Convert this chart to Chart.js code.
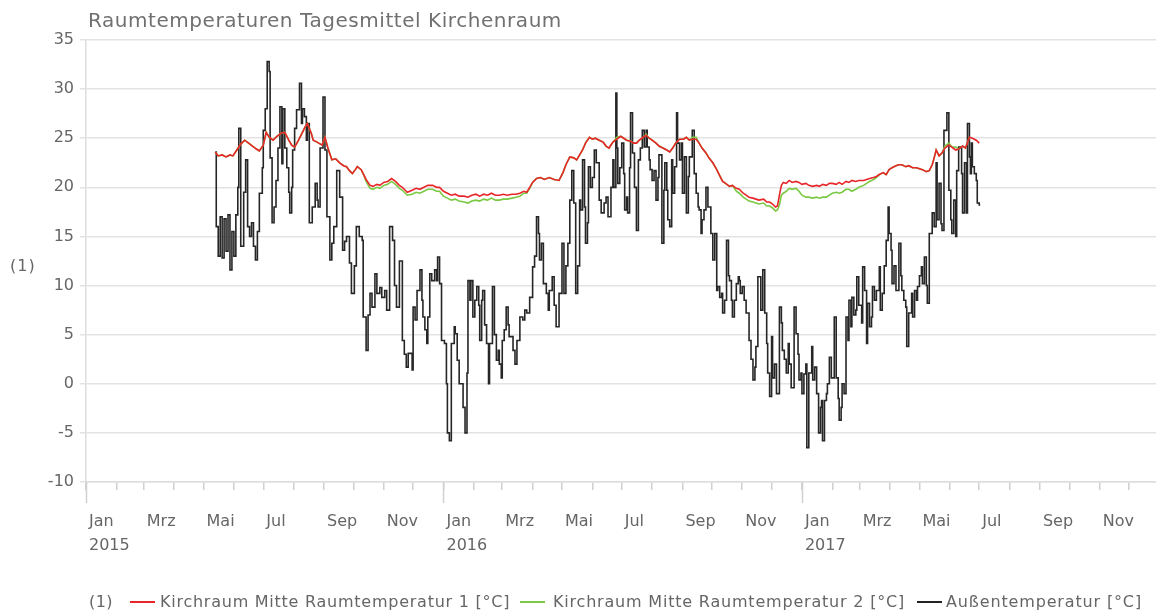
<!DOCTYPE html>
<html><head><meta charset="utf-8">
<script src="https://cdn.jsdelivr.net/npm/chart.js@4/dist/chart.umd.min.js"></script>
<style>
html,body{margin:0;padding:0;background:#fff;overflow:hidden;}
#wrap{position:relative;width:1156px;height:614px;font-family:"DejaVu Sans",sans-serif;color:#666;}
#title{position:absolute;left:88px;top:8px;font-size:20px;color:#707070;white-space:nowrap;}
#ytitle{position:absolute;left:10px;top:256px;font-size:16px;color:#666;letter-spacing:1px;}
.lg{position:absolute;top:592px;font-size:16px;color:#666;white-space:nowrap;line-height:20px;}
.sw{position:absolute;top:601px;width:25px;height:2px;}
canvas{position:absolute;left:0;top:0;}
</style></head>
<body><div id="wrap">
<canvas id="c" width="1156" height="614"></canvas>
<div id="title" data-w="474">Raumtemperaturen Tagesmittel Kirchenraum</div>
<div id="ytitle">(1)</div>
<div class="lg" style="left:89px" data-w="24">(1)</div>
<div class="sw" style="left:130px;background:#e8262a"></div>
<div class="lg" style="left:160px" data-w="350">Kirchraum Mitte Raumtemperatur 1 [°C]</div>
<div class="sw" style="left:520px;background:#7ac943"></div>
<div class="lg" style="left:553px" data-w="352">Kirchraum Mitte Raumtemperatur 2 [°C]</div>
<div class="sw" style="left:917px;background:#222"></div>
<div class="lg" style="left:946px" data-w="196">Außentemperatur [°C]</div>
</div>
<script>
// ---- data (x = days since 2015-01-01) ----
const monthNames = ['Jan','Feb','Mrz','Apr','Mai','Jun','Jul','Aug','Sep','Okt','Nov','Dez'];
const years = [2015, 2016, 2017];
const yTicks = [-10, -5, 0, 5, 10, 15, 20, 25, 30, 35];
const seriesNames = ['Kirchraum Mitte Raumtemperatur 1 [°C]', 'Kirchraum Mitte Raumtemperatur 2 [°C]', 'Außentemperatur [°C]'];

const roomDays = [132,135,139,143,147,150,154,158,162,166,170,174,177,181,184,187,191,195,199,203,207,210,213,217,221,224,226,230,232,236,241,244,247,251,255,259,263,266,269,272,275,277,281,283,286,290,293,297,300,304,308,312,316,320,323,326,328,333,337,341,345,349,354,358,361,365,369,373,377,381,386,390,394,398,402,406,410,414,418,422,426,430,435,439,443,447,450,453,456,460,464,468,473,478,483,487,490,494,498,501,504,507,510,514,517,520,524,528,531,534,538,542,546,549,552,556,559,562,565,569,572,575,578,582,585,589,593,596,599,602,606,610,613,616,619,623,626,629,633,636,640,644,647,650,653,657,660,664,667,671,674,677,681,684,687,692,695,698,701,704,706,708,710,712,715,718,721,725,728,731,735,738,742,746,749,752,756,759,762,766,769,772,776,779,782,786,789,794,797,800,804,807,810,814,817,820,823,827,830,833,837,840,844,848,851,854,858,861,864,866,868,871,874,877,881,884,888,891,895,898,902,905,909,912];
const room1 = [23.6,23.2,23.3,23.1,23.3,23.2,23.8,24.4,24.8,24.5,24.2,23.9,23.7,24.3,25.6,25.1,24.8,25.2,25.5,25.6,24.8,24.3,24.1,24.8,25.6,26.2,26.5,25.5,24.8,24.6,24.3,25.1,24.0,22.8,22.9,22.5,22.2,22.1,21.7,21.4,21.8,22.1,21.8,21.4,20.8,20.2,20.1,20.3,20.2,20.5,20.6,20.9,20.6,20.2,20.0,19.7,19.5,19.7,19.9,19.8,20.0,20.2,20.2,20.0,20.0,19.6,19.4,19.2,19.3,19.1,19.1,19.0,19.2,19.3,19.1,19.3,19.2,19.4,19.2,19.2,19.3,19.2,19.3,19.3,19.4,19.6,19.5,20.0,20.5,20.9,21.0,20.8,21.0,20.8,20.7,21.5,22.3,23.1,23.0,22.8,23.3,23.8,24.5,25.1,24.9,25.0,24.8,24.6,24.2,24.0,24.6,24.9,25.2,25.0,24.8,24.7,24.5,24.5,24.8,25.1,25.3,25.0,24.8,24.5,24.2,24.0,23.8,23.6,24.0,24.5,24.9,24.9,25.1,24.8,24.9,24.9,24.5,24.0,23.5,23.0,22.5,21.8,21.2,20.6,20.4,20.1,20.2,19.9,19.8,19.4,19.2,19.0,18.9,18.8,18.7,18.8,18.5,18.5,18.3,18.0,18.1,19.2,20.2,20.5,20.4,20.7,20.5,20.6,20.5,20.3,20.4,20.2,20.1,20.2,20.1,20.3,20.2,20.4,20.4,20.3,20.5,20.3,20.6,20.5,20.7,20.6,20.7,20.7,20.8,20.9,21.0,21.1,21.3,21.5,21.3,21.8,22.0,22.2,22.3,22.3,22.1,22.2,22.0,22.0,21.9,21.8,21.6,21.7,22.3,23.0,23.8,23.2,23.5,24.0,24.3,24.1,23.8,23.9,24.2,24.0,25.1,25.0,24.8,24.5];
const room2 = [23.6,23.2,23.3,23.1,23.3,23.2,23.8,24.4,24.8,24.5,24.2,23.9,23.7,24.3,25.6,25.1,24.8,25.2,25.5,25.6,24.8,24.3,24.1,24.8,25.6,26.2,26.5,25.5,24.8,24.6,24.3,25.1,24.0,22.8,22.9,22.5,22.2,22.1,21.7,21.4,21.8,22.1,21.8,21.4,20.6,19.9,19.8,20.0,19.9,20.2,20.3,20.6,20.3,19.9,19.7,19.4,19.2,19.3,19.5,19.4,19.6,19.8,19.8,19.6,19.6,19.1,18.9,18.7,18.8,18.6,18.5,18.4,18.6,18.7,18.6,18.8,18.7,18.9,18.7,18.7,18.8,18.8,18.9,19.0,19.1,19.4,19.4,19.9,20.5,20.9,21.0,20.8,21.0,20.8,20.7,21.5,22.3,23.1,23.0,22.8,23.3,23.8,24.5,25.1,24.9,25.0,24.8,24.6,24.2,24.0,24.6,25.1,25.2,25.0,24.8,24.7,24.5,24.5,24.8,25.1,25.4,25.0,24.8,24.5,24.2,24.0,23.8,23.6,24.0,24.5,24.9,24.9,25.1,24.8,25.1,25.1,24.5,24.0,23.5,23.0,22.5,21.8,21.2,20.6,20.4,20.1,20.2,19.6,19.4,19.0,18.8,18.6,18.5,18.4,18.3,18.4,18.1,18.1,17.9,17.6,17.7,18.2,19.2,19.4,19.6,19.9,19.8,19.9,19.6,19.2,19.0,19.0,18.9,19.0,18.9,19.0,19.0,19.2,19.4,19.5,19.4,19.5,19.8,19.8,19.6,19.8,20.0,20.2,20.4,20.6,20.8,21.0,21.3,21.5,21.3,21.8,22.0,22.2,22.3,22.3,22.1,22.2,22.0,22.0,21.9,21.8,21.6,21.7,22.3,23.0,23.8,23.2,23.5,24.2,24.5,24.1,24.1,23.9,24.2,24.0,25.1,null,null,null];

const outDays = [132,133,135,137,139,141,143,145,147,149,151,153,155,156,158,161,163,165,167,169,171,173,175,177,180,181,183,185,187,188,190,192,194,196,198,200,201,203,205,207,208,210,211,213,215,218,220,221,223,225,226,228,231,234,236,237,239,242,244,246,249,251,253,256,259,262,264,266,269,271,274,276,279,282,283,286,288,290,292,295,297,300,302,305,307,310,313,315,317,320,323,325,327,329,333,334,336,338,341,343,344,346,348,349,351,353,356,358,359,361,363,366,368,369,371,373,376,377,379,381,385,387,389,390,392,393,395,397,399,401,402,404,405,407,409,411,412,415,417,419,421,422,424,425,427,429,431,432,436,438,440,443,446,448,450,453,456,458,460,462,463,465,467,470,472,473,476,478,480,483,486,488,490,492,494,496,498,500,502,504,505,507,509,510,512,513,515,517,519,521,524,526,529,531,533,536,538,539,541,542,543,545,547,549,550,552,553,555,556,558,560,562,564,566,568,570,572,573,575,576,578,580,582,584,585,588,590,591,593,594,596,598,599,601,603,604,606,608,609,611,613,615,616,619,621,623,625,626,628,629,631,633,635,638,640,642,644,645,647,649,650,652,654,656,657,659,660,662,664,666,667,668,670,672,674,677,679,681,683,684,686,689,691,693,695,696,698,700,701,703,705,708,710,711,713,715,717,718,720,723,725,727,728,730,731,733,735,736,738,741,742,744,746,748,750,751,752,754,756,757,759,761,764,766,768,769,771,772,774,776,778,779,781,782,784,786,787,789,792,793,795,797,798,800,802,803,805,807,810,811,813,815,817,819,820,822,823,825,827,830,832,833,835,837,838,840,843,844,846,848,849,851,853,854,856,858,859,861,864,866,868,869,871,873,874,876,879,881,883,884,886,888,889,891,894,895,897,899,900,902,903,904,905,907,909,910,912,913];
const outTemp = [23.6,16,13,17,12.8,16.8,13.5,17.2,11.6,15.5,13,17.2,20,26,14,19.5,22.8,16,15,16.4,14,12.6,15.5,19.4,22,25.8,28,32.8,31.8,23,16.4,18,20.7,24,28.2,22.4,28,24,22,19.5,17.4,20,23.8,26,27.9,30.6,26.5,28,27.2,24.8,26.5,16.4,18,20.4,18.7,18,24,29.2,23.8,17,12.6,14.3,16,21.7,19,13.6,14.5,15,12.3,9.2,12,16,15,14.6,6.8,3.4,7,9.2,7.8,11.2,9.2,9.8,8.8,9.5,7.5,16,14.6,10,7.8,12.5,4.4,3,1.7,3.1,1.4,7.8,6.5,9.5,11.6,8.5,6.8,5.5,4.1,6.8,11.2,10.5,11.6,10.5,12.9,10.2,4.4,4.1,0,-5.0,-5.8,4.1,5.8,5.1,2.4,0,-2.4,-5.0,1.1,10.5,8.5,10.5,6.8,8.5,9.9,8,4.4,8.5,9.5,6,4.1,0,4.1,9.9,5,2.4,3.4,2.0,0.6,4.4,5.5,7.8,6,4.8,3.4,2,4.4,6.8,6.5,7.5,7.2,8.8,11.9,13,17,15.3,12.6,14.3,10.2,9.2,7.5,9.5,10.9,8,5.8,9.2,14.3,9.2,12,14.3,18.7,21.7,18.4,9.2,12,18.7,17.7,22.8,18,14.3,16.4,22.1,20,21,23.8,22.5,18.7,17.4,18.4,19,17,20,22.8,20,29.6,24,20.4,22,24.5,21.4,17.7,19,17.4,22,27.6,23.5,20,15.6,22.8,24,25.8,24.1,25.8,24.1,22.8,21.8,20.7,21.7,18.7,21,23.3,14.3,19.7,22.5,19.7,16.7,16,22.8,19.4,22.1,27.6,24.5,22.8,24.5,19.4,23.1,17.4,21.1,23.1,25.8,21.4,19.4,18,17.7,15.3,16.7,17.7,20,18,15.3,12.6,15.3,9.5,9.9,8.8,9.2,7.2,8.5,14.6,11,10.5,8.5,6.8,8.5,10.2,10.9,10.5,9.2,9.9,8.5,7.2,4.4,2.5,0.4,1.7,3.8,10.9,7.5,11.6,7.2,4.1,1.1,-1.3,4.8,0.6,2,-1,7.8,6.2,3.4,2.5,1.1,4.1,2.0,-0.4,7.8,5.1,3,0.4,1.1,-1,1,2.0,-6.5,1.1,3.8,0.4,1.7,-1,-5.0,-2.4,-1.7,-5.8,-1.7,-1,0,2.7,0.6,6.8,0.6,-1.5,-3.7,-2.4,0,-1,6.8,4.4,8.5,5.8,8.8,7,7.5,10.9,8,6.2,11.9,9.5,4.1,8.2,5.8,6.8,9.9,8.5,9.5,11.9,7.5,9.2,12,14.6,18,15.3,13.6,10.2,12,9.5,14.3,11,9.5,8.5,7.8,3.8,7.2,9.2,6.8,9.5,8.5,9.9,11,11.9,10.2,12.9,10,8.2,15.3,17.4,16,22.5,16.7,20.4,16.3,15.6,25.8,27.6,19.7,16.7,15.3,18.7,15,21.7,24.1,21.4,17.4,22.5,17.4,26.5,23.1,21.4,24.5,22.1,21.4,20.7,18.4,18.2,18.2];

// ---- text fitting to measured reference widths ----
document.querySelectorAll('[data-w]').forEach(el => {
  const target = +el.dataset.w;
  const w = el.getBoundingClientRect().width;
  const n = el.textContent.length;
  el.style.letterSpacing = ((target - w) / n).toFixed(2) + 'px';
});

// ---- helpers ----
const START = Date.UTC(2015, 0, 1);
const DAYMS = 86400000;
const xMin = 0;
const xMax = (Date.UTC(2017, 11, 28, 12) - START) / DAYMS;
const pts = (d, v) => d.map((x, i) => ({x, y: v[i]}));

const monthTicks = [];
for (const yr of years) for (let m = 0; m < 12; m++) {
  const v = (Date.UTC(yr, m, 1) - START) / DAYMS;
  if (v <= xMax) monthTicks.push({value: v, month: m, year: yr});
}

const majorTicks = {
  id: 'majorTicks',
  afterDraw(chart) {
    const ctx = chart.ctx, xs = chart.scales.x, b = chart.chartArea.bottom;
    ctx.save();
    ctx.strokeStyle = '#d0d0d0'; ctx.lineWidth = 1.5;
    monthTicks.filter(t => t.month === 0).forEach(t => {
      const px = Math.round(xs.getPixelForValue(t.value)) + 0.5;
      ctx.beginPath(); ctx.moveTo(px, b); ctx.lineTo(px, b + 21); ctx.stroke();
    });
    ctx.restore();
  }
};

new Chart(document.getElementById('c'), {
  type: 'line',
  data: {
    datasets: [
      {label: seriesNames[0], data: pts(roomDays, room1), borderColor: '#e8262a', borderWidth: 1.6, pointRadius: 0, tension: 0},
      {label: seriesNames[1], data: pts(roomDays, room2), borderColor: '#7ac943', borderWidth: 1.6, pointRadius: 0, tension: 0, spanGaps: false},
      {label: seriesNames[2], data: pts(outDays, outTemp), borderColor: '#262626', borderWidth: 1.6, pointRadius: 0, stepped: true}
    ]
  },
  options: {
    responsive: false, animation: false, devicePixelRatio: 1,
    layout: {padding: {top: 40, left: 0, right: 0, bottom: 0}},
    plugins: {legend: {display: false}, tooltip: {enabled: false}, title: {display: false}},
    scales: {
      x: {
        type: 'linear', min: xMin, max: xMax,
        afterBuildTicks: s => { s.ticks = monthTicks.map(t => ({...t})); },
        afterFit: s => { s.height = 132; },
        grid: {drawOnChartArea: false, tickLength: 8, color: '#d0d0d0', lineWidth: 1.5},
        border: {color: '#dedede', width: 1.5},
        ticks: {
          autoSkip: false, maxRotation: 0, minRotation: 0, align: 'start', labelOffset: 3, padding: 19,
          color: '#666', font: {family: 'DejaVu Sans', size: 16, lineHeight: 1.55},
          callback: (v, i, ticks) => {
            const t = ticks[i];
            if (t.month === 0) return [monthNames[0], String(t.year)];
            return t.month % 2 === 0 ? monthNames[t.month] : '';
          }
        }
      },
      y: {
        min: yTicks[0], max: yTicks[yTicks.length - 1],
        afterBuildTicks: s => { s.ticks = yTicks.map(v => ({value: v})); },
        afterFit: s => { s.width = 86; },
        grid: {color: '#e3e3e3', lineWidth: 1.5, tickLength: 6},
        border: {color: '#dedede', width: 1.5},
        ticks: {color: '#666', padding: 6, font: {family: 'DejaVu Sans', size: 16}, callback: v => String(v)}
      }
    }
  },
  plugins: [majorTicks]
});
</script>
</body></html>
